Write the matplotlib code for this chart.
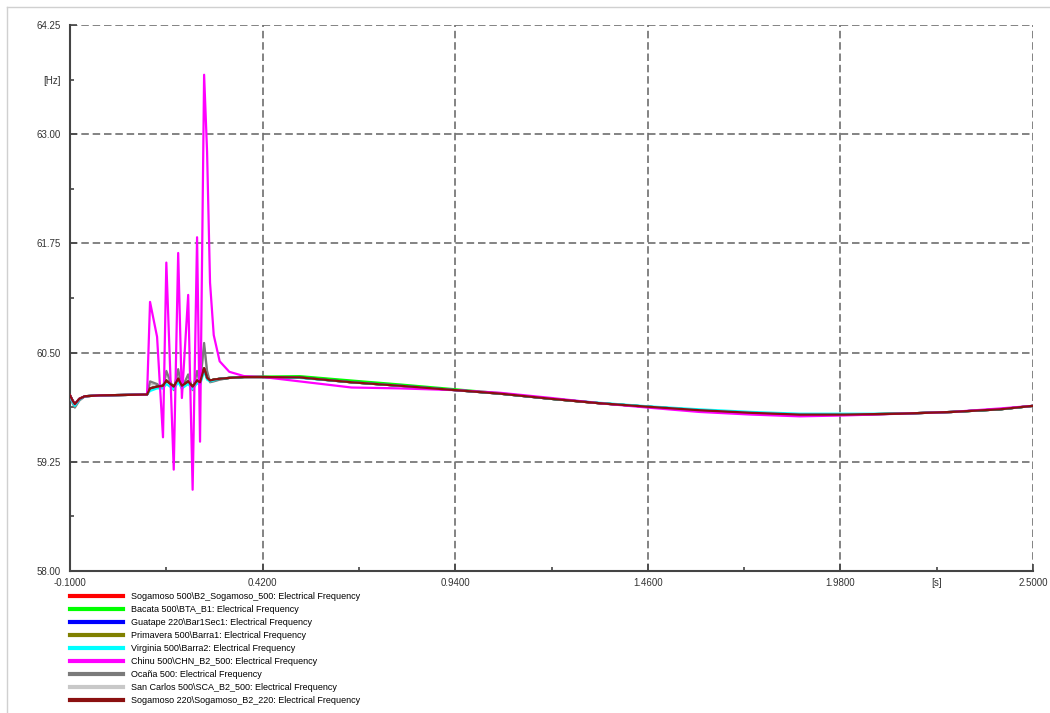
import numpy as np
import matplotlib
matplotlib.use('Agg')
import matplotlib.pyplot as plt
from matplotlib.lines import Line2D

# time [s] shared by all series
t = [-0.100, -0.093, -0.087, -0.075, -0.060, -0.020, 0.050, 0.108,
     0.116, 0.135, 0.151, 0.160, 0.180, 0.192, 0.202, 0.219, 0.231,
     0.243, 0.251, 0.262, 0.270, 0.278, 0.288, 0.304, 0.330, 0.370,
     0.421, 0.52, 0.66, 0.79, 0.94, 1.06, 1.20, 1.33, 1.46, 1.60,
     1.74, 1.87, 1.99, 2.14, 2.28, 2.41, 2.50]

# frequency [Hz]
f_main = [60.01, 59.95, 59.91, 59.97, 60.00, 60.01, 60.015, 60.02,
          60.09, 60.11, 60.12, 60.18, 60.11, 60.20, 60.12, 60.17, 60.11,
          60.18, 60.16, 60.32, 60.21, 60.18, 60.19, 60.20, 60.21, 60.22,
          60.22, 60.215, 60.16, 60.12, 60.07, 60.03, 59.97, 59.92, 59.88, 59.84,
          59.81, 59.79, 59.79, 59.80, 59.82, 59.85, 59.89]
f_bacata = [60.01, 59.95, 59.91, 59.97, 60.00, 60.01, 60.015, 60.02,
            60.09, 60.11, 60.12, 60.18, 60.11, 60.20, 60.12, 60.17, 60.11,
            60.18, 60.16, 60.30, 60.21, 60.18, 60.19, 60.20, 60.21, 60.22,
            60.225, 60.23, 60.18, 60.135, 60.08, 60.035, 59.97, 59.92, 59.88, 59.84,
            59.81, 59.79, 59.79, 59.80, 59.82, 59.85, 59.89]
f_virginia = [60.00, 59.93, 59.89, 59.96, 60.00, 60.01, 60.015, 60.02,
              60.06, 60.09, 60.09, 60.14, 60.08, 60.16, 60.09, 60.14, 60.08,
              60.15, 60.13, 60.29, 60.19, 60.17, 60.18, 60.20, 60.21, 60.22,
              60.22, 60.21, 60.16, 60.12, 60.07, 60.03, 59.97, 59.925, 59.885, 59.85,
              59.82, 59.80, 59.80, 59.80, 59.82, 59.85, 59.89]
f_chinu = [60.01, 59.95, 59.91, 59.97, 60.00, 60.01, 60.015, 60.02,
           61.08, 60.68, 59.53, 61.53, 59.16, 61.64, 59.98, 61.16, 58.93,
           61.82, 59.48, 63.68, 62.80, 61.30, 60.70, 60.40, 60.28, 60.23,
           60.22, 60.17, 60.10, 60.09, 60.07, 60.04, 59.98, 59.92, 59.87, 59.82,
           59.79, 59.77, 59.78, 59.80, 59.82, 59.86, 59.89]
f_ocana = [60.00, 59.92, 59.87, 59.95, 60.00, 60.01, 60.015, 60.02,
           60.17, 60.14, 60.09, 60.29, 60.07, 60.31, 60.09, 60.25, 60.07,
           60.29, 60.14, 60.61, 60.29, 60.16, 60.17, 60.19, 60.21, 60.22,
           60.22, 60.215, 60.16, 60.12, 60.07, 60.03, 59.97, 59.92, 59.88, 59.84,
           59.81, 59.79, 59.79, 59.80, 59.82, 59.85, 59.89]
f_sancarlos = [60.00, 59.93, 59.89, 59.96, 60.00, 60.01, 60.015, 60.02,
               60.14, 60.13, 60.10, 60.25, 60.09, 60.27, 60.10, 60.22, 60.09,
               60.25, 60.15, 60.55, 60.27, 60.17, 60.18, 60.19, 60.21, 60.22,
               60.22, 60.215, 60.16, 60.12, 60.07, 60.03, 59.97, 59.92, 59.88, 59.84,
               59.81, 59.79, 59.79, 59.80, 59.82, 59.85, 59.89]

labels = ['Sogamoso 500\\B2_Sogamoso_500: Electrical Frequency',
          'Bacata 500\\BTA_B1: Electrical Frequency',
          'Guatape 220\\Bar1Sec1: Electrical Frequency',
          'Primavera 500\\Barra1: Electrical Frequency',
          'Virginia 500\\Barra2: Electrical Frequency',
          'Chinu 500\\CHN_B2_500: Electrical Frequency',
          'Ocaña 500: Electrical Frequency',
          'San Carlos 500\\SCA_B2_500: Electrical Frequency',
          'Sogamoso 220\\Sogamoso_B2_220: Electrical Frequency']
colors = ['#ff0000', '#00ff00', '#0000ff', '#808000', '#00ffff',
          '#ff00ff', '#7a7a7a', '#c8c8c8', '#8b1010']
series = [f_main, f_bacata, f_main, f_main, f_virginia,
          f_chinu, f_ocana, f_sancarlos, f_main]

plt.rcParams['font.family'] = ['Liberation Sans', 'DejaVu Sans']

fig = plt.figure(figsize=(10.5, 7.13), dpi=100)
ax = fig.add_axes([0.0667, 0.1992, 0.9171, 0.7658])

# draw order: grey ones behind, magenta, dark red on top
order = [7, 6, 0, 1, 2, 3, 4, 5, 8]
for k, i in enumerate(order):
    ax.plot(t, series[i], color=colors[i], lw=1.6, zorder=3 + k * 0.1)

ax.set_xlim(-0.1, 2.5)
ax.set_ylim(58.0, 64.25)

xt = np.linspace(-0.1, 2.5, 6)
yt = np.linspace(58.0, 64.25, 6)
ax.set_xticks(xt)
ax.set_xticklabels(['%.4f' % v for v in xt])
ax.set_yticks(yt)
ax.set_yticklabels(['%.2f' % v for v in yt])
xm = (xt[:-1] + xt[1:]) / 2
ym = (yt[:-1] + yt[1:]) / 2
ax.set_xticks(xm, minor=True)
ax.set_xticklabels(['', '', '', '', '[s]'], minor=True)
ax.set_yticks(ym, minor=True)
ax.set_yticklabels(['', '', '', '', '[Hz]'], minor=True)

ax.tick_params(which='both', direction='in', labelsize=7, labelcolor='#333333',
               color='#444444', width=1.2)
ax.tick_params(which='major', length=5)
ax.tick_params(which='minor', length=3)
ax.tick_params(axis='y', which='both', pad=7)
ax.tick_params(axis='x', which='both', pad=5)

ax.grid(True, which='major', linestyle=(0, (4.5, 2.3)), color='#6e6e6e', lw=1.2)
for s in ['top', 'right']:
    ax.spines[s].set_visible(False)
for s in ['left', 'bottom']:
    ax.spines[s].set_color('#444444')
    ax.spines[s].set_linewidth(1.5)

handles = [Line2D([], [], color=c, lw=3) for c in colors]
fig.legend(handles, labels, loc='upper left', bbox_to_anchor=(0.0667, 0.170),
           frameon=False, fontsize=6.5, handlelength=5.9, handletextpad=0.85,
           labelspacing=0.45, borderpad=0, borderaxespad=0)

# outer frame
fig.add_artist(Line2D([7 / 1050, 7 / 1050], [0, 1 - 7 / 713],
                      transform=fig.transFigure, color='#d0d0d0', lw=1))
fig.add_artist(Line2D([7 / 1050, 1], [1 - 7 / 713, 1 - 7 / 713],
                      transform=fig.transFigure, color='#d0d0d0', lw=1))

fig.savefig('out.png', dpi=100)
